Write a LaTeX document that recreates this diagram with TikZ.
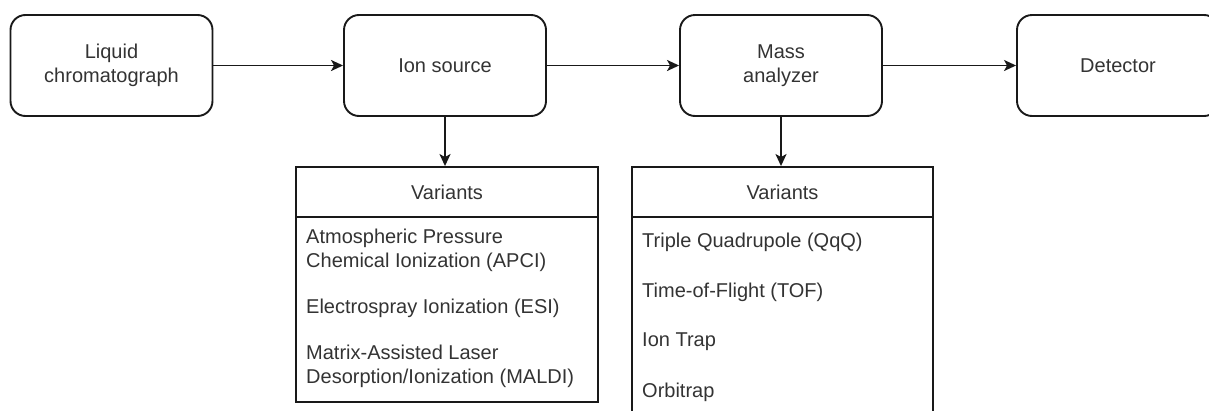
\documentclass[tikz,border=0pt]{standalone}
\usepackage{fontspec}
\setmainfont{Liberation Sans}
\usetikzlibrary{arrows.meta}

\begin{document}
\begin{tikzpicture}[x=1pt, y=-1pt,
    stage/.style={draw=black!90, line width=1.9pt, rounded corners=15pt,
      minimum width=202pt, minimum height=101pt, align=center,
      text=black!80, font=\fontsize{20}{24}\selectfont},
    listhead/.style={draw=black!90, line width=1.9pt, minimum width=302pt,
      minimum height=50pt, text=black!80, font=\fontsize{20}{24}\selectfont},
    listbody/.style={draw=black!90, line width=1.9pt, minimum width=302pt},
    item/.style={anchor=west, align=left, inner sep=0pt,
      text=black!80, font=\fontsize{20}{24}\selectfont},
    flow/.style={-{Stealth[length=12pt, width=11pt, inset=3pt]},
      line width=1.9pt, draw=black!90}]

    \useasboundingbox (0,0) rectangle (1209,410);

    % Draw the stages.
    \node[stage] (lc) at (111.5, 65.5) {Liquid\\chromatograph};
    \node[stage] (ion) at (445, 65.5) {Ion source};
    \node[stage] (mass) at (781, 65.5) {Mass\\analyzer};
    \node[stage] (det) at (1118, 65.5) {Detector};

    % Draw the variant lists.
    \node[listhead] (ion_head) at (447, 192) {Variants};
    \node[listbody, minimum height=185pt] (ion_body) at (447, 309.5) {};
    \node[listhead, minimum width=301pt] (mass_head) at (782.5, 192) {Variants};
    \node[listbody, minimum width=301pt, minimum height=240pt] (mass_body) at (782.5, 337) {};

    % Draw the list items.
    \node[item] (apci) at (306, 250) {Atmospheric Pressure\\Chemical Ionization (APCI)};
    \node[item] (esi) at (306, 308) {Electrospray Ionization (ESI)};
    \node[item] (maldi) at (306, 366.5) {Matrix-Assisted Laser\\Desorption/Ionization (MALDI)};
    \node[item] (qqq) at (642, 242) {Triple Quadrupole (QqQ)};
    \node[item] (tof) at (642, 292) {Time-of-Flight (TOF)};
    \node[item] (trap) at (642, 342) {Ion Trap};
    \node[item] (orbi) at (642, 392) {Orbitrap};

    % Draw the lines.
    % Stage -> Stage.
    \draw[flow] (lc) -- (ion);
    \draw[flow] (ion) -- (mass);
    \draw[flow] (mass) -- (det);
    % Stage -> Variants.
    \draw[flow] (ion.south) -- (ion.south |- ion_head.north);
    \draw[flow] (mass.south) -- (mass.south |- mass_head.north);
  \end{tikzpicture}
\end{document}
